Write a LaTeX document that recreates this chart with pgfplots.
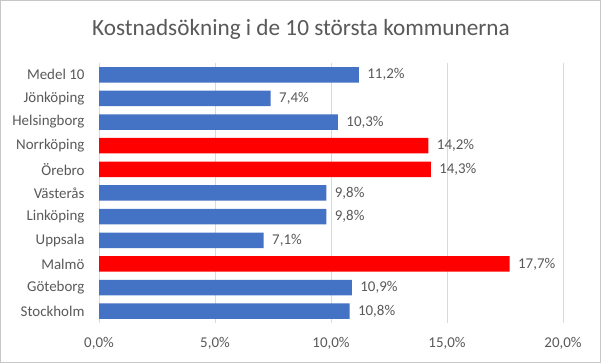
\documentclass[border=0pt]{standalone}
\usepackage{pgfplots}
\pgfplotsset{compat=1.18}
\usepackage{fontspec}
\setmainfont{Carlito}
\definecolor{barblue}{HTML}{4472C4}
\definecolor{barred}{HTML}{FF0000}
\definecolor{txtgray}{HTML}{595959}
\definecolor{gridgray}{HTML}{D9D9D9}
\begin{document}
\begin{tikzpicture}
\draw[draw=gridgray!80!gray, line width=1bp, fill=white] (0.5bp,0.5bp) rectangle (600.5bp,362.5bp);
\node[text=txtgray, font=\fontsize{23.3}{27}\selectfont] at (301bp,334bp) {Kostnadsökning i de 10 största kommunerna};
\begin{axis}[
  at={(99bp,40bp)}, anchor=south west,
  scale only axis, width=464bp, height=260bp,
  xbar, bar width=15.5bp, bar shift=0pt,
  xmin=0, xmax=20, ymin=-0.5, ymax=10.5,
  xtick={0,5,10,15,20},
  xticklabels={{0,0\%},{5,0\%},{10,0\%},{15,0\%},{20,0\%}},
  ytick={0,...,10},
  yticklabels={Stockholm,Göteborg,Malmö,Uppsala,Linköping,Västerås,Örebro,Norrköping,Helsingborg,Jönköping,Medel 10},
  xmajorgrids, major grid style={gridgray, line width=0.8bp},
  axis line style={draw=none},
  major tick length=0pt,
  tick label style={text=txtgray, font=\fontsize{15}{18}\selectfont},
  xticklabel style={yshift=-11bp},
  yticklabel style={xshift=-11bp},
  /pgf/number format/assume math mode=true,
  nodes near coords={\pgfmathprintnumber[fixed,fixed zerofill,precision=1,use comma]{\pgfplotspointmeta}\%},
  nodes near coords style={text=txtgray, font=\fontsize{15}{18}\selectfont, anchor=west, xshift=5bp},
  point meta=x,
]
\addplot[draw=none, fill=barblue] coordinates {(10.8,0) (10.9,1) (7.1,3) (9.8,4) (9.8,5) (10.3,8) (7.4,9) (11.2,10)};
\addplot[draw=none, fill=barred] coordinates {(17.7,2) (14.3,6) (14.2,7)};
\end{axis}
\end{tikzpicture}
\end{document}
